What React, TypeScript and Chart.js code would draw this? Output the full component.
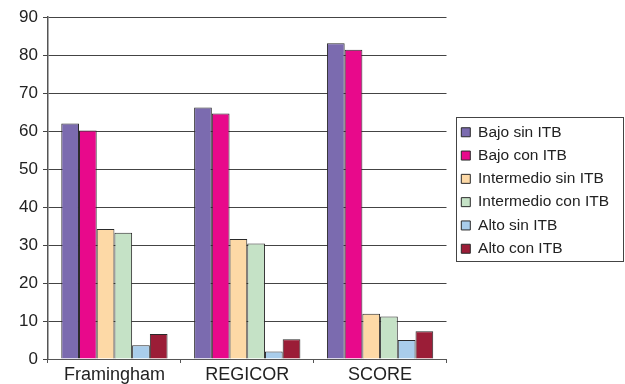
import React, { useEffect, useRef } from "react";
import { Chart, registerables } from "chart.js";
Chart.register(...registerables);

const categories = ["Framingham", "REGICOR", "SCORE"];
const seriesLabels = [
  "Bajo sin ITB",
  "Bajo con ITB",
  "Intermedio sin ITB",
  "Intermedio con ITB",
  "Alto sin ITB",
  "Alto con ITB",
];
const bajoSin = [62, 66.2, 83.1];
const bajoCon = [60.1, 64.6, 81.4];
const interSin = [34.2, 31.6, 11.9];
const interCon = [33.2, 30.4, 11.2];
const altoSin = [3.6, 2.0, 5.0];
const altoCon = [6.6, 5.2, 7.3];
const seriesColors = ["#7B6BAF", "#E8098B", "#FDD9A6", "#C5E2C6", "#A9CDEB", "#9B1D37"];
const yTicks = [0, 10, 20, 30, 40, 50, 60, 70, 80, 90];

const FONT = "'Liberation Sans', Arial, sans-serif";

const legendWidthFix = {
  id: "legendWidthFix",
  beforeLayout(chart: any) {
    const lg = chart.legend;
    if (!lg || lg.__wrapped) return;
    const orig = lg.update.bind(lg);
    lg.update = (w: number, h: number, m: any) => orig(Math.max(w, 220), h, m);
    lg.__wrapped = true;
  },
};

const legendBorder = {
  id: "legendBorder",
  afterDraw(chart: any) {
    const lg = chart.legend;
    if (!lg || !lg.legendHitBoxes || !lg.legendHitBoxes.length) return;
    const hb = lg.legendHitBoxes;
    const first = hb[0];
    const last = hb[hb.length - 1];
    const left = first.left - 5;
    const top = first.top - 8;
    const bottom = last.top + last.height + 4;
    const right = 623;
    const ctx = chart.ctx;
    ctx.save();
    ctx.strokeStyle = "#444";
    ctx.lineWidth = 1;
    ctx.strokeRect(Math.round(left) + 0.5, Math.round(top) + 0.5, Math.round(right - left), Math.round(bottom - top));
    ctx.restore();
  },
};

export default function App() {
  const ref = useRef<HTMLCanvasElement>(null);
  useEffect(() => {
    if (!ref.current) return;
    const all = [bajoSin, bajoCon, interSin, interCon, altoSin, altoCon];
    const chart = new Chart(ref.current, {
      type: "bar",
      data: {
        labels: categories,
        datasets: all.map((d, i) => ({
          label: seriesLabels[i],
          data: d,
          backgroundColor: seriesColors[i],
          borderColor: "#2a2a2a",
          borderWidth: 1,
          barPercentage: 1,
          categoryPercentage: 0.8,
        })),
      },
      options: {
        responsive: false,
        animation: false,
        layout: { padding: { left: 0, right: 6, top: 17, bottom: 0 } },
        plugins: {
          tooltip: { enabled: false },
          title: { display: false },
          legend: {
            position: "right",
            fullSize: false,
            title: { display: true, text: " ", font: { size: 4, lineHeight: 1.25 }, padding: 0 },
            labels: {
              boxWidth: 9,
              boxHeight: 9,
              padding: 7.8,
              color: "#222",
              font: { family: FONT, size: 15.5 },
            },
          },
        },
        scales: {
          x: {
            offset: true,
            grid: {
              display: true,
              drawOnChartArea: false,
              drawTicks: true,
              tickLength: 4,
              color: "#555",
              offset: true,
            },
            border: { display: true, color: "#555", width: 1 },
            ticks: { color: "#222", font: { family: FONT, size: 18 }, padding: 1 },
            afterFit: (s: any) => {
              s.height = 25;
            },
          },
          y: {
            min: 0,
            max: 90,
            afterBuildTicks: (s: any) => {
              s.ticks = yTicks.map((v) => ({ value: v }));
            },
            grid: {
              color: "#444",
              lineWidth: 1,
              drawTicks: true,
              tickLength: 5,
            },
            border: { display: true, color: "#555", width: 1.5 },
            ticks: { color: "#222", font: { family: FONT, size: 17 }, padding: 5 },
            afterFit: (s: any) => {
              s.width = 48;
            },
          },
          y2: {
            position: "right",
            display: true,
            grid: { display: false, drawTicks: false },
            border: { display: false },
            ticks: { display: false },
            afterFit: (s: any) => {
              s.width = 7;
            },
          },
        },
      },
      plugins: [legendWidthFix, legendBorder],
    });
    return () => chart.destroy();
  }, []);
  return (
    <div style={{ position: "absolute", left: 0, top: 0, width: 625, height: 384, background: "#fff" }}>
      <canvas ref={ref} width={625} height={384} />
    </div>
  );
}
